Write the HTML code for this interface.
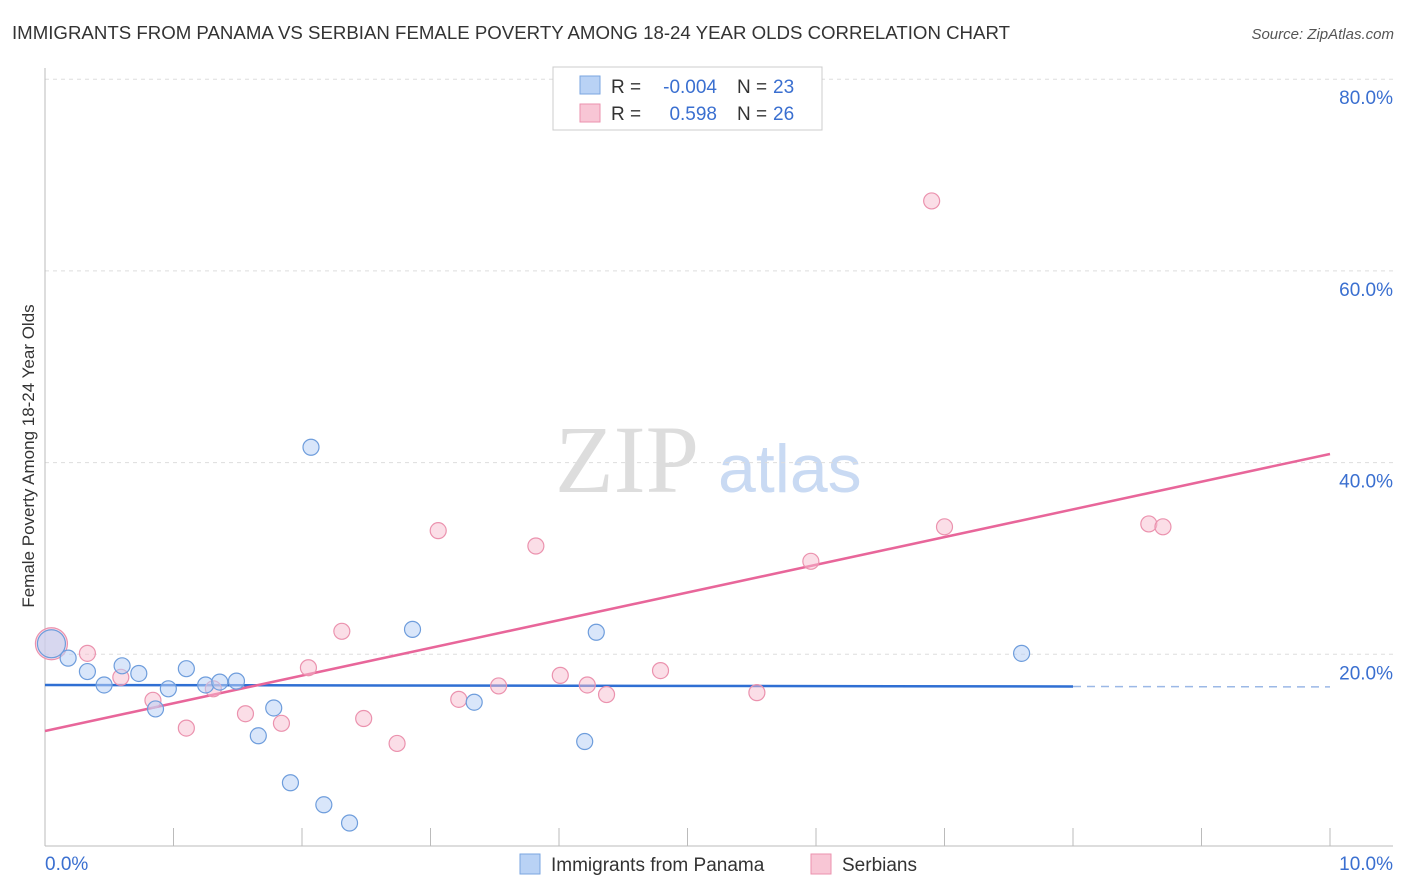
<!DOCTYPE html>
<html><head><meta charset="utf-8">
<style>
body{margin:0;background:#fff;font-family:"Liberation Sans",sans-serif;}
#wrap{position:relative;width:1406px;height:892px;overflow:hidden;}
</style></head>
<body>
<div id="wrap">
<svg id="svg" width="1406" height="892" xmlns="http://www.w3.org/2000/svg">
<text x="12" y="39" font-size="18" fill="#333" textLength="998" lengthAdjust="spacingAndGlyphs">IMMIGRANTS FROM PANAMA VS SERBIAN FEMALE POVERTY AMONG 18-24 YEAR OLDS CORRELATION CHART</text>
<text x="1394" y="39" font-size="15" fill="#555" font-style="italic" text-anchor="end">Source: ZipAtlas.com</text>
<text x="34" y="456" font-size="17" fill="#333" text-anchor="middle" transform="rotate(-90 34 456)">Female Poverty Among 18-24 Year Olds</text>
<text x="555" y="492" font-size="96" fill="#ddd" font-family="Liberation Serif,serif">ZIP</text>
<text x="718" y="492" font-size="68" fill="#c9daf3">atlas</text>
<g id="grid"></g><g id="lines"></g><g id="pts"></g>
<g>
<rect x="553" y="67" width="269" height="63" fill="#fff" stroke="#ccc"/>
<rect x="580" y="76" width="20" height="18" fill="#b9d2f5" stroke="#7aa6e0"/>
<rect x="580" y="104" width="20" height="18" fill="#f8c6d5" stroke="#eb92ae"/>
<text x="611" y="93" font-size="19" fill="#333">R =</text>
<text x="717" y="93" font-size="19" fill="#3a6fd0" text-anchor="end">-0.004</text>
<text x="737" y="93" font-size="19" fill="#333">N =</text>
<text x="773" y="93" font-size="19" fill="#3a6fd0">23</text>
<text x="611" y="120" font-size="19" fill="#333">R =</text>
<text x="717" y="120" font-size="19" fill="#3a6fd0" text-anchor="end">0.598</text>
<text x="737" y="120" font-size="19" fill="#333">N =</text>
<text x="773" y="120" font-size="19" fill="#3a6fd0">26</text>
</g>
<g>
<rect x="520" y="854" width="20" height="20" fill="#b9d2f5" stroke="#7aa6e0"/>
<text x="551" y="871" font-size="19" fill="#333">Immigrants from Panama</text>
<rect x="811" y="854" width="20" height="20" fill="#f8c6d5" stroke="#eb92ae"/>
<text x="842" y="871" font-size="19" fill="#333">Serbians</text>
</g>
</svg>
</div>
<script>
const blueX=[0.05,0.18,0.33,0.46,0.6,0.73,0.86,0.96,1.1,1.25,1.36,1.49,1.66,1.78,1.91,2.07,2.17,2.37,2.86,3.34,4.2,4.29,7.6];
const blueY=[21.1,19.6,18.2,16.8,18.8,18.0,14.3,16.4,18.5,16.8,17.1,17.2,11.5,14.4,6.6,41.6,4.3,2.4,22.6,15.0,10.9,22.3,20.1];
const pinkX=[0.05,0.33,0.59,0.84,1.1,1.31,1.56,1.84,2.05,2.31,2.48,2.74,3.06,3.22,3.53,3.82,4.01,4.22,4.37,4.79,5.54,5.96,6.9,7.0,8.59,8.7];
const pinkY=[21.1,20.1,17.6,15.2,12.3,16.4,13.8,12.8,18.6,22.4,13.3,10.7,32.9,15.3,16.7,31.3,17.8,16.8,15.8,18.3,16.0,29.7,67.3,33.3,33.6,33.3];
const yTicks=[20,40,60,80];
const yTickLabels=["20.0%","40.0%","60.0%","80.0%"];
const xTickLabels=["0.0%","10.0%"];
const blueLine=[16.8,16.6];
const pinkLine=[12.0,40.9];
const NS="http://www.w3.org/2000/svg";
const X=v=>45+v*128.5, Y=v=>846-v*9.585;
function mk(tag,attrs,parent){const e=document.createElementNS(NS,tag);for(const k in attrs)e.setAttribute(k,attrs[k]);document.getElementById(parent).appendChild(e);return e;}
yTicks.forEach((t,i)=>{
 const g=mk('line',{x1:45,x2:1393,y1:Y(t),y2:Y(t),stroke:'#ddd','stroke-dasharray':'4,4'},'grid');
 
 
 const l=mk('text',{x:1393,y:Y(t)+25,'font-size':19,fill:'#3a6fd0','text-anchor':'end'},'grid');
 l.textContent=yTickLabels[i];
 
 
});
const ax=mk('line',{x1:45,x2:1393,y1:846,y2:846,stroke:'#bbb'},'grid');


const ay=mk('line',{x1:45,x2:45,y1:68,y2:846,stroke:'#bbb'},'grid');


for(let i=0;i<=10;i++){const t=mk('line',{x1:X(i),x2:X(i),y1:828,y2:846,stroke:'#bbb'},'grid');
 
 }
[[0,'start',45],[10,'end',1393]].forEach((d,i)=>{const l=mk('text',{x:d[2],y:870,'font-size':19,fill:'#3a6fd0','text-anchor':d[1]},'grid');l.textContent=xTickLabels[i];
 
 });
const bl=mk('line',{x1:X(0),x2:X(8),y1:Y(blueLine[0]),y2:Y(blueLine[0]+(blueLine[1]-blueLine[0])*0.8),stroke:'#2f6fd3','stroke-width':2.5},'lines');


const bd=mk('line',{x1:X(8),x2:X(10),y1:Y(blueLine[0]+(blueLine[1]-blueLine[0])*0.8),y2:Y(blueLine[1]),stroke:'#9bb8e6','stroke-width':1.5,'stroke-dasharray':'8,6'},'lines');


const pl=mk('line',{x1:X(0),x2:X(10),y1:Y(pinkLine[0]),y2:Y(pinkLine[1]),stroke:'#e8669a','stroke-width':2.5},'lines');


pinkX.forEach((x,i)=>{const c=mk('circle',{cx:X(x),cy:Y(pinkY[i]),r:i==0?16:8,fill:'rgba(248,190,208,0.5)',stroke:'#eb92ae','stroke-width':1.2},'pts');
 
 });
blueX.forEach((x,i)=>{const c=mk('circle',{cx:X(x),cy:Y(blueY[i]),r:i==0?14:8,fill:'rgba(185,210,245,0.55)',stroke:'#6e9ddc','stroke-width':1.2},'pts');
 
 });
</script>
</body></html>
